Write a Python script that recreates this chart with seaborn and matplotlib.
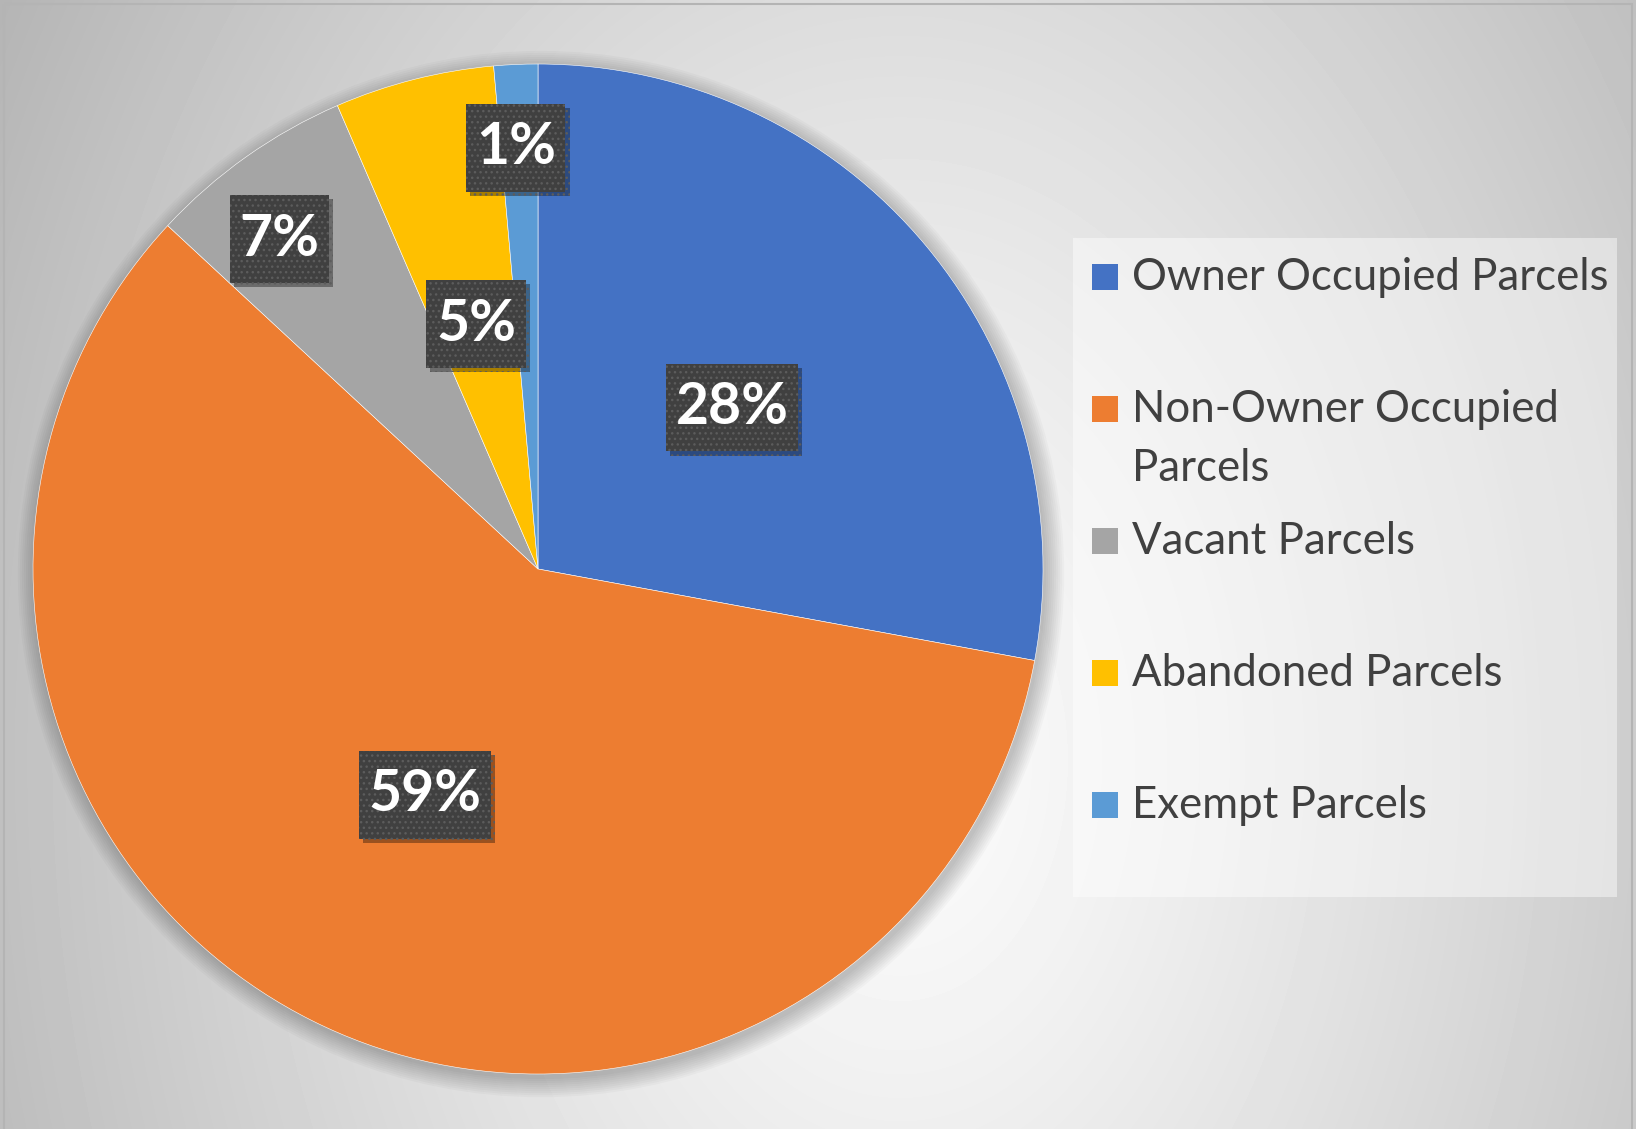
import numpy as np
import matplotlib
matplotlib.use("Agg")
import matplotlib.pyplot as plt
import matplotlib.patheffects as pe
from matplotlib.patches import Rectangle, Circle
import seaborn as sns

# ---- data ----
categories = ["Owner Occupied Parcels", "Non-Owner Occupied Parcels", "Vacant Parcels",
              "Abandoned Parcels", "Exempt Parcels"]
legend_labels = ["Owner Occupied Parcels", "Non-Owner Occupied\nParcels", "Vacant Parcels",
                 "Abandoned Parcels", "Exempt Parcels"]
shares = [27.9, 59.0, 6.6, 5.1, 1.4]
colors = ["#4472C4", "#ED7D31", "#A5A5A5", "#FFC000", "#5B9BD5"]
label_dist = [0.5, 0.5, 0.83, 0.5, 0.835]
label_dang = [0.0, 0.0, 2.8, 0.0, 0.5]

sns.set_theme(style="white")
plt.rcParams["font.family"] = ["Lato", "DejaVu Sans"]

W, H = 1636, 1129
fig = plt.figure(figsize=(W / 100, H / 100), dpi=100)

# ---- background gradient ----
bg = fig.add_axes([0, 0, 1, 1], zorder=0)
yy, xx = np.mgrid[0:H, 0:W]
r = np.sqrt(((xx - 900) / 800.0) ** 2 + ((yy - 760) / 1150.0) ** 2)
val = np.clip(252 - 52 * r ** 1.2, 170, 255) / 255.0
bg.imshow(val, cmap="gray", vmin=0, vmax=1, extent=[0, W, H, 0], aspect="auto", interpolation="bilinear")
bg.set_xlim(0, W)
bg.set_ylim(H, 0)
bg.axis("off")
bg.add_patch(Rectangle((4, 4), W - 8, H + 10, fill=False, edgecolor="#b4b4b4", linewidth=1.5))

# ---- pie ----
cx, cy, R = 538, 569, 505
ax = fig.add_axes([(cx - R) / W, 1 - (cy + R) / H, 2 * R / W, 2 * R / H], zorder=1)
ax.set_facecolor("none")

for i in range(10):
    ax.add_patch(Circle((0.006, -0.01), 1 + 0.004 * i, facecolor="black", edgecolor="none",
                        alpha=0.022, zorder=0, clip_on=False))

wedges, texts, autotexts = ax.pie(shares, colors=colors, startangle=90, counterclock=False,
                                  autopct="%.0f%%", pctdistance=0.5, radius=1,
                                  wedgeprops=dict(edgecolor="white", linewidth=0.4))
for w in wedges:
    w.set_zorder(2)

for w, t, d, da in zip(wedges, autotexts, label_dist, label_dang):
    ang = np.deg2rad((w.theta1 + w.theta2) / 2 + da)
    t.set_position((d * np.cos(ang), d * np.sin(ang)))
    t.set_color("white")
    t.set_fontsize(41)
    t.set_fontweight("bold")
    t.set_zorder(5)
    t.set_bbox(dict(boxstyle="square,pad=0.17", facecolor="#404040", edgecolor="#5c5c5c",
                    linewidth=0, hatch="...", mutation_aspect=1.8))
    t.get_bbox_patch().set_path_effects([
        pe.SimplePatchShadow(offset=(3, -3), shadow_rgbFace="black", alpha=0.35),
        pe.Normal()])

ax.set_xlim(-1, 1)
ax.set_ylim(-1, 1)
ax.set_aspect("equal")
ax.axis("off")

# ---- legend ----
def fx(x):
    return x / W

def fy(y):
    return 1 - y / H

fig.patches.append(Rectangle((fx(1073), fy(897)), fx(1617) - fx(1073), fy(238) - fy(897),
                             transform=fig.transFigure, facecolor="white", alpha=0.45,
                             edgecolor="none", zorder=3))
base0, step, line_gap = 290, 132, 59
for i, (lab, col) in enumerate(zip(legend_labels, colors)):
    b = base0 + step * i
    fig.patches.append(Rectangle((fx(1092), fy(b)), fx(1118) - fx(1092), fy(b - 26) - fy(b),
                                 transform=fig.transFigure, facecolor=col, edgecolor="none",
                                 zorder=4))
    for k, line in enumerate(lab.split("\n")):
        fig.text(fx(1132), fy(b + line_gap * k), line, fontsize=31.5, color="#404040",
                 va="baseline", ha="left", zorder=5)

fig.savefig("out.png", dpi=100)
